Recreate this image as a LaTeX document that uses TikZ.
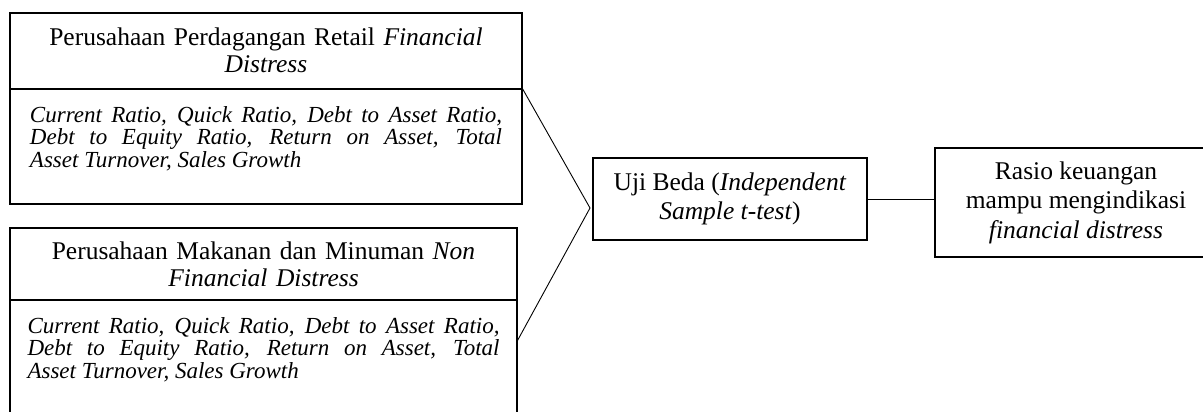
\documentclass[tikz,border=0pt]{standalone}
\usepackage{fontspec}
\setmainfont{Liberation Serif}
\tikzset{
  headbox/.style={draw, line width=1.1pt, font=\fontsize{25.5}{27}\selectfont,
                  text width=472pt, align=center, minimum width=#1, inner sep=0pt},
  bodybox/.style={draw, line width=1.1pt, font=\fontsize{23}{22.5}\selectfont\itshape,
                  text width=472pt, align=justify, minimum width=#1, inner sep=0pt, anchor=base},
  testbox/.style={draw, line width=1.1pt, font=\fontsize{25.5}{29.5}\selectfont,
                  align=center, minimum width=#1},
  conn/.style={line width=0.9pt},
}

\begin{document}
\begin{tikzpicture}[x=1pt, y=-1pt]
\useasboundingbox (0,0) rectangle (1203,412);
% Retail companies (financial distress)
\node[headbox=512, minimum height=75.3] (retailhead) at (266,50.65)
  {Perusahaan Perdagangan Retail \textit{Financial}\\ \textit{Distress}};
\node[bodybox=512, text height=33, text depth=81.7] (retailbody) at (266,122.3)
  {Current Ratio, Quick Ratio, Debt to Asset Ratio,\linebreak
   Debt to Equity Ratio, Return on Asset, Total\linebreak
   Asset Turnover, Sales Growth};
% Food and beverage companies (non financial distress)
\node[headbox=507, minimum height=72] (mamihead) at (263.5,264)
  {Perusahaan Makanan dan Minuman \textit{Non}\\ \textit{Financial Distress}};
\node[bodybox=507, text height=33, text depth=107] (mamibody) at (263.5,333)
  {Current Ratio, Quick Ratio, Debt to Asset Ratio,\linebreak
   Debt to Equity Ratio, Return on Asset, Total\linebreak
   Asset Turnover, Sales Growth};
% Test and result
\node[testbox=274, minimum height=82] (ujibeda) at (730,199)
  {Uji Beda (\textit{Independent}\\ \textit{Sample t-test})};
\node[testbox=282, minimum height=109] (rasio) at (1076,202.5)
  {Rasio keuangan\\ mampu mengindikasi\\ \textit{financial distress}};
% Connectors
\coordinate (apex) at (590,208);
\draw[conn] (retailbody.north east) -- (apex) -- ([yshift=-41pt]mamibody.north east);
\draw[conn] (ujibeda.east) -- (rasio.west |- ujibeda.east);
\end{tikzpicture}
\end{document}
